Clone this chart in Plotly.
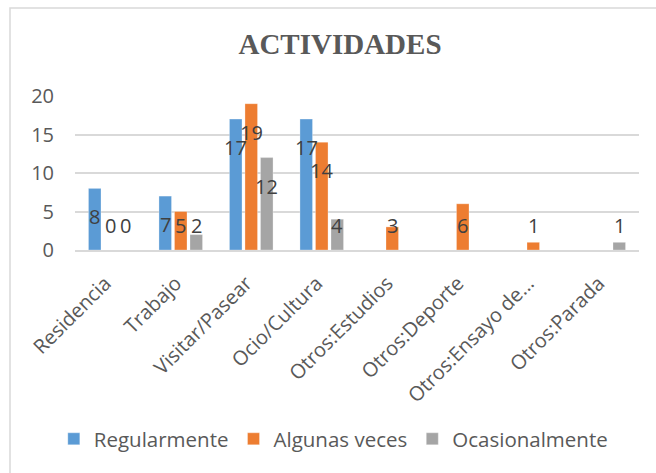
import plotly.graph_objects as go

categories = ["Residencia", "Trabajo", "Visitar/Pasear", "Ocio/Cultura",
              "Otros:Estudios", "Otros:Deporte", "Otros:Ensayo de...", "Otros:Parada"]
regularmente = [8, 7, 17, 17, None, None, None, None]
algunas_veces = [0, 5, 19, 14, 3, 6, 1, None]
ocasionalmente = [0, 2, 12, 4, None, None, None, 1]

series = [
    ("Regularmente", regularmente, "#5B9BD5"),
    ("Algunas veces", algunas_veces, "#ED7D31"),
    ("Ocasionalmente", ocasionalmente, "#A5A5A5"),
]

W, H = 656, 473
L, R, T, B = 75, 17, 96, 223
BARGAP = 0.34
BARGROUPGAP = 0.19
YMAX = 20

TXT = "#595959"
GRID = "#D9D9D9"
FONT = "Open Sans"

fig = go.Figure()
for name, vals, color in series:
    fig.add_trace(go.Bar(
        x=categories, y=vals, name=name,
        marker=dict(color=color, line=dict(color="rgba(255,255,255,0.5)", width=0.6)),
        hoverinfo="x+y+name",
    ))

# value labels: placed just inside the top of each bar, never lower than a floor
slot = (1 - BARGAP) / len(series)
annotations = []
for k, (name, vals, color) in enumerate(series):
    for i, v in enumerate(vals):
        if v is None:
            continue
        annotations.append(dict(
            x=i + (k - (len(series) - 1) / 2) * slot, y=max(v - 3.7, 3.2),
            xref="x", yref="y", text=str(v), showarrow=False,
            font=dict(family=FONT, size=20, color="#404040"),
            xanchor="center", yanchor="middle",
        ))

plot_w = W - L - R
plot_h = H - T - B
fig.update_layout(
    width=W, height=H,
    margin=dict(l=L, r=R, t=T, b=B),
    paper_bgcolor="white", plot_bgcolor="white",
    barmode="group", bargap=BARGAP, bargroupgap=BARGROUPGAP,
    title=dict(text="<b>ACTIVIDADES</b>", x=340 / W, xanchor="center",
               y=1 - 44 / H, yanchor="middle", yref="container",
               font=dict(family="Liberation Serif", size=29, color=TXT)),
    font=dict(family=FONT, size=20, color=TXT),
    showlegend=True,
    legend=dict(orientation="h", x=0.458, xanchor="center",
                y=(T + plot_h - 439) / plot_h, yanchor="middle",
                font=dict(family=FONT, size=20.5, color=TXT),
                traceorder="normal", itemclick=False),
    annotations=annotations,
    shapes=[dict(type="rect", xref="paper", yref="paper",
                 x0=(10 - L) / plot_w, x1=(W + 20 - L) / plot_w,
                 y0=(T + plot_h - (H + 20)) / plot_h, y1=(T + plot_h - 8) / plot_h,
                 line=dict(color=GRID, width=1.5), fillcolor="rgba(0,0,0,0)",
                 layer="below")],
)
fig.update_xaxes(type="category", tickangle=-45, showgrid=False,
                 showline=True, linecolor=GRID, linewidth=1.5,
                 tickfont=dict(family=FONT, size=20, color=TXT),
                 ticklabelstandoff=12, ticklabelshift=-5,
                 ticks="", fixedrange=True)
fig.update_yaxes(range=[0, YMAX], dtick=5, showgrid=True, gridcolor=GRID,
                 gridwidth=1.5, zeroline=False, showline=False,
                 ticklabelstandoff=20,
                 tickfont=dict(family=FONT, size=20, color=TXT),
                 ticks="", fixedrange=True)

fig.write_html("out.html")
